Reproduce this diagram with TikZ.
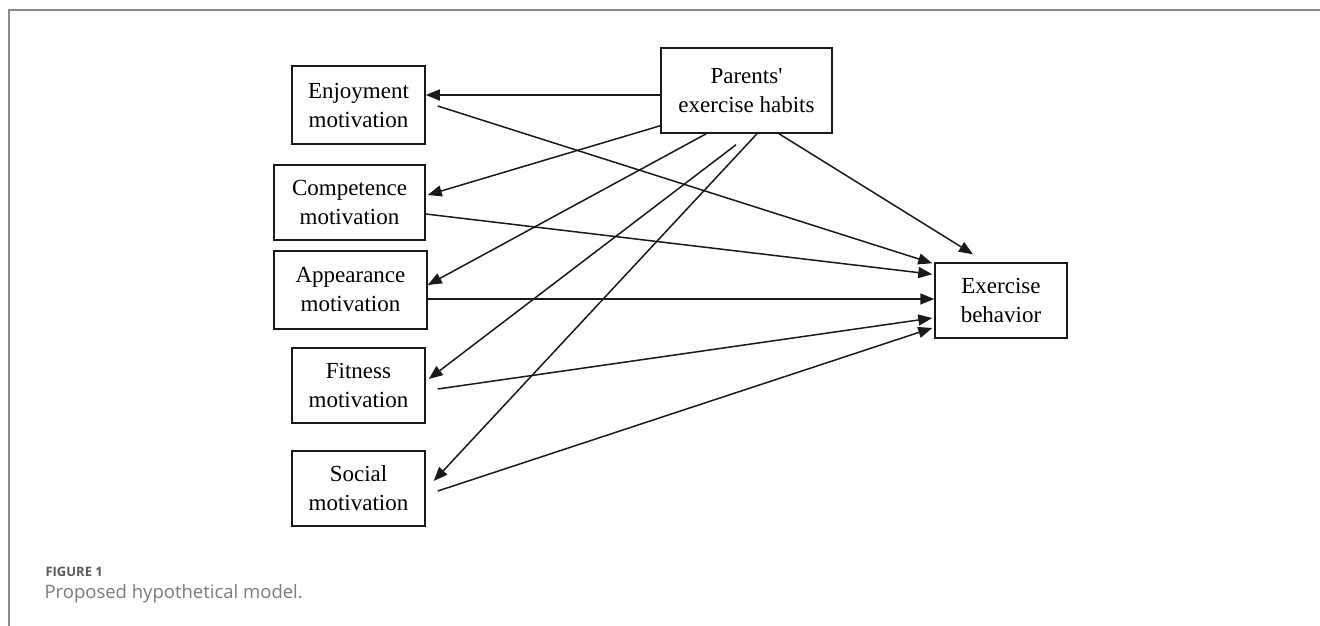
\documentclass[tikz,border=0pt]{standalone}
\usepackage{fontspec}
\setmainfont{Liberation Serif}
\newfontfamily\caixafont{Liberation Serif}
\newfontfamily\capfont{Open Sans}
\usetikzlibrary{arrows.meta}

\definecolor{moldura}{HTML}{8A8A8A}
\definecolor{legenda}{HTML}{7A7A7A}
\definecolor{figura}{HTML}{5A5A5A}

\tikzset{
  caixa/.style={draw=black!90, line width=1.5pt, align=center, inner sep=0pt,
    font=\caixafont\fontsize{23}{29}\selectfont},
  seta/.style={line width=1.5pt, draw=black!90,
    -{Triangle[length=14pt,width=11pt]}}
}

\begin{document}
\begin{tikzpicture}[x=1pt,y=-1pt]

\useasboundingbox (0,0) rectangle (1320,626);

% Moldura da figura
\draw[moldura, line width=1.5pt] (9,626) -- (9,10) -- (1320,10);

% Caixas
\node[caixa, minimum width=133pt, minimum height=78pt] (enjoy) at (358.5,105) {Enjoyment\\motivation};
\node[caixa, minimum width=151pt, minimum height=75pt] (compet) at (349.5,202.5) {Competence\\motivation};
\node[caixa, minimum width=153pt, minimum height=78pt] (appear) at (350.5,290) {Appearance\\motivation};
\node[caixa, minimum width=133pt, minimum height=75pt] (fitness) at (358.5,385.5) {Fitness\\motivation};
\node[caixa, minimum width=133pt, minimum height=75pt] (social) at (358.5,488.5) {Social\\motivation};
\node[caixa, minimum width=171pt, minimum height=85pt] (parents) at (746.5,90.5) {Parents'\\exercise habits};
\node[caixa, minimum width=132pt, minimum height=75pt] (behav) at (1001,300.5) {Exercise\\behavior};

% Setas saindo dos pais
\draw[seta] ([yshift=-4.5pt]parents.west) -- ([yshift=-4.5pt]parents.west -| enjoy.east);
\draw[seta] ([yshift=8pt]parents.south west) -- ([xshift=2pt,yshift=7.5pt]compet.east);
\draw[seta] ([xshift=46pt]parents.south west) -- ([yshift=5pt]appear.east);
\draw[seta] ([xshift=-10.5pt,yshift=-11pt]parents.south) -- ([xshift=3pt,yshift=6.5pt]fitness.east);
\draw[seta] ([xshift=10.5pt]parents.south) -- ([xshift=8pt,yshift=7.5pt]social.east);
\draw[seta] ([xshift=32.5pt]parents.south) -- ([xshift=-28pt,yshift=8pt]behav.north);

% Setas para o comportamento
\draw[seta] ([xshift=12pt,yshift=-1pt]enjoy.east) -- ([xshift=-2pt,yshift=-1pt]behav.north west);
\draw[seta] ([yshift=-11.5pt]compet.east) -- ([xshift=-2pt,yshift=-12pt]behav.north west);
\draw[seta] ([yshift=-9pt]appear.east) -- ([yshift=-9pt]appear.east -| behav.west);
\draw[seta] ([xshift=12pt,yshift=-3.5pt]fitness.east) -- ([xshift=-2pt,yshift=-17.5pt]behav.west);
\draw[seta] ([xshift=12pt,yshift=-2.5pt]social.east) -- ([xshift=-2pt,yshift=-27.5pt]behav.west);

% Legenda
\node[anchor=west, text=figura, font=\capfont\fontsize{13}{15}\selectfont\bfseries] (fig) at (42,572) {FIGURE 1};
\node[anchor=west, text=legenda, font=\capfont\fontsize{18.5}{22}\selectfont] (leg) at (41,594) {Proposed hypothetical model.};

\end{tikzpicture}
\end{document}
